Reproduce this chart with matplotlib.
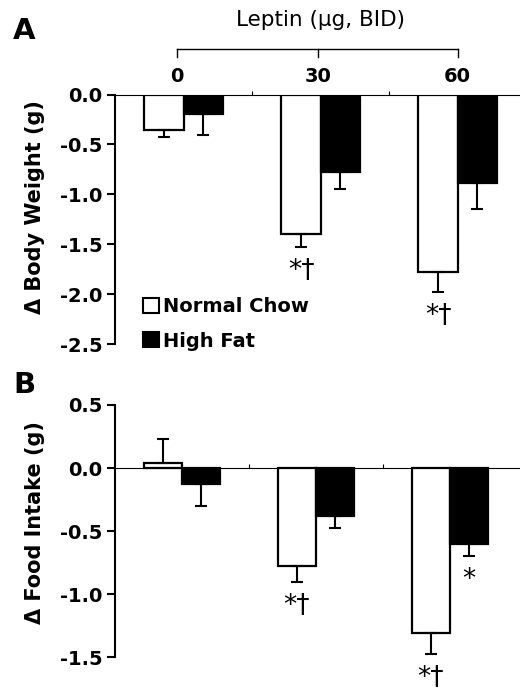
import matplotlib
matplotlib.use("Agg")
import matplotlib.pyplot as plt
from matplotlib.patches import Patch
import numpy as np

plt.rcParams['font.family'] = ['DejaVu Sans']
plt.rcParams['axes.unicode_minus'] = False

# ---- data ----
doses = ["0", "30", "60"]
series = ["Normal Chow", "High Fat"]

bw_chow = [-0.36, -1.40, -1.78]
bw_chow_err = [0.07, 0.13, 0.20]
bw_fat = [-0.20, -0.775, -0.89]
bw_fat_err = [0.21, 0.17, 0.255]

fi_chow = [0.042, -0.777, -1.31]
fi_chow_err = [0.19, 0.125, 0.16]
fi_fat = [-0.127, -0.377, -0.60]
fi_fat_err = [0.17, 0.10, 0.10]

bw_marks_chow = ["", "*†", "*†"]
bw_marks_fat = ["", "", ""]
fi_marks_chow = ["", "*†", "*†"]
fi_marks_fat = ["", "", "*"]

yticksA = [0.0, -0.5, -1.0, -1.5, -2.0, -2.5]
yticksB = [0.5, 0.0, -0.5, -1.0, -1.5]

W, H = 520, 692
fig = plt.figure(figsize=(W / 100, H / 100), dpi=100)

axA = fig.add_axes([115 / W, 1 - 344 / H, 1 - 115 / W, (344 - 94.5) / H])
axB = fig.add_axes([115 / W, 1 - 657.3 / H, 1 - 115 / W, (657.3 - 405) / H])

bw = 0.285
centers = np.arange(len(doses)) + 0.5


def one_sided(vals, errs):
    lo = [e if v < 0 else 0 for v, e in zip(vals, errs)]
    hi = [e if v >= 0 else 0 for v, e in zip(vals, errs)]
    return [lo, hi]


def draw(ax, chow, chow_err, fat, fat_err, m_chow, m_fat, yticks, ylim, xlim):
    xc = centers - bw / 2
    xf = centers + bw / 2
    ax.bar(xc, chow, width=bw, color="white", edgecolor="black", linewidth=1.6, zorder=2)
    ax.bar(xf, fat, width=bw, color="black", edgecolor="black", linewidth=1.6, zorder=2)
    ax.errorbar(xc, chow, yerr=one_sided(chow, chow_err), fmt="none", ecolor="black",
                elinewidth=1.5, capsize=4, capthick=1.5, zorder=3)
    ax.errorbar(xf, fat, yerr=one_sided(fat, fat_err), fmt="none", ecolor="black",
                elinewidth=1.5, capsize=4, capthick=1.5, zorder=3)
    for xs, vals, errs, marks in ((xc, chow, chow_err, m_chow), (xf, fat, fat_err, m_fat)):
        for x, v, e, m in zip(xs, vals, errs, marks):
            if m:
                ax.annotate(m, xy=(x, v - e), xytext=(0, -8), textcoords="offset points",
                            ha="center", va="top", fontsize=19, color="black")
    ax.set_xlim(*xlim)
    ax.set_ylim(*ylim)
    ax.set_yticks(yticks)
    ax.set_yticklabels([f"{t:.1f}" for t in yticks], fontsize=14, fontweight="bold")
    ax.tick_params(axis="y", direction="out", length=6, width=1.5, pad=3)
    ax.set_xticks([1, 2])
    ax.set_xticklabels([])
    ax.tick_params(axis="x", direction="in", length=3, width=0.8)
    for s in ("top", "right"):
        ax.spines[s].set_visible(False)
    ax.spines["bottom"].set_position(("data", 0))
    ax.spines["bottom"].set_linewidth(0.8)
    ax.spines["left"].set_linewidth(1.5)
    ax.spines["bottom"].set_zorder(1)
    ax.patch.set_alpha(0)


draw(axA, bw_chow, bw_chow_err, bw_fat, bw_fat_err, bw_marks_chow, bw_marks_fat,
     yticksA, (-2.5, 0.0), (0, 405 / 137))
draw(axB, fi_chow, fi_chow_err, fi_fat, fi_fat_err, fi_marks_chow, fi_marks_fat,
     yticksB, (-1.5, 0.5), (0, 405 / 134))

# axis labels
fig.text(35 / W, 1 - 207 / H, "Δ Body Weight (g)", rotation=90, ha="center", va="center",
         fontsize=15, fontweight="bold")
fig.text(35 / W, 1 - 523 / H, "Δ Food Intake (g)", rotation=90, ha="center", va="center",
         fontsize=15, fontweight="bold")

# panel letters
fig.text(24 / W, 1 - 31 / H, "A", ha="center", va="center", fontsize=21, fontweight="bold")
fig.text(24 / W, 1 - 385 / H, "B", ha="center", va="center", fontsize=21, fontweight="bold")

# dose bracket on top of panel A
trans = matplotlib.transforms.blended_transform_factory(axA.transData, fig.transFigure)
yb = 1 - 49 / H
yt = 1 - 57 / H
bx = [centers[0] - 0.05, centers[1] - 0.02, centers[2]]
axA.plot([bx[0], bx[-1]], [yb, yb], color="black", lw=1.0, transform=trans,
         clip_on=False)
for c, d in zip(bx, doses):
    axA.plot([c, c], [yb, yt], color="black", lw=1.0, transform=trans, clip_on=False)
    axA.text(c, 1 - 77 / H, d, transform=trans, ha="center", va="center",
             fontsize=14, fontweight="bold")
axA.text(centers[1], 1 - 20 / H, "Leptin (μg, BID)", transform=trans, ha="center",
         va="center", fontsize=15.5)

# legend
handles = [Patch(facecolor="white", edgecolor="black", linewidth=1.5),
           Patch(facecolor="black", edgecolor="black", linewidth=1.5)]
fig.legend(handles, series, loc="upper left", bbox_to_anchor=(143 / W, 1 - 297 / H),
           bbox_transform=fig.transFigure, frameon=False, handlelength=0.8,
           handleheight=0.8, handletextpad=0.25, labelspacing=0.8, borderpad=0,
           borderaxespad=0, prop={"weight": "bold", "size": 14})

fig.savefig("out.png", dpi=100)
